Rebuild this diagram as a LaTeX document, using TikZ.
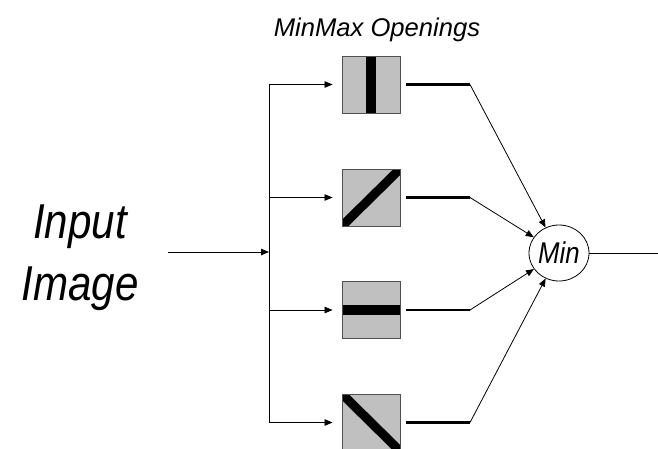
\documentclass[tikz,border=0pt]{standalone}
\usepackage{fontspec}
\setmainfont{Liberation Sans}
\newfontfamily\narrowsans[FakeStretch=0.86]{Liberation Sans}
\usetikzlibrary{arrows.meta,shapes.geometric}
\definecolor{panel}{HTML}{C0C0C0}
\definecolor{panelline}{HTML}{505050}
\tikzset{
  px/.style={x=1pt,y=-1pt},
  sebox/.style={draw=panelline,line width=0.9pt,fill=panel,minimum width=58pt,
    minimum height=57pt,inner sep=0pt},
  vbar/.style={sebox,path picture={\fill[black]
    ([xshift=-4.6pt]path picture bounding box.north) rectangle
    ([xshift=4.6pt]path picture bounding box.south);}},
  hbar/.style={sebox,path picture={\fill[black]
    ([yshift=-5pt]path picture bounding box.west) rectangle
    ([yshift=5pt]path picture bounding box.east);}},
  rdiag/.style={sebox,path picture={\draw[black,line width=9pt]
    ([shift={(-5pt,-5pt)}]path picture bounding box.south west) --
    ([shift={(5pt,5pt)}]path picture bounding box.north east);}},
  ldiag/.style={sebox,path picture={\draw[black,line width=9pt]
    ([shift={(-5pt,5pt)}]path picture bounding box.north west) --
    ([shift={(5pt,-5pt)}]path picture bounding box.south east);}},
  wire/.style={line width=0.8pt},
  arr/.style={wire,-{Triangle[length=8pt,width=6.5pt]}},
  heavy/.style={line width=2.2pt},
  minnode/.style={draw,ellipse,line width=0.8pt,minimum width=60pt,
    minimum height=56pt,inner sep=0pt,
    font=\narrowsans\itshape\fontsize{30}{30}\selectfont},
}
\begin{document}
\begin{tikzpicture}[px]
\clip (0,0) rectangle (658,448);
\useasboundingbox (0,0) rectangle (658,448);

% labels
\node[anchor=base,inner sep=0pt,font=\itshape\fontsize{25.6}{26}\selectfont]
  (title) at (377,36.7) {MinMax Openings};
\node[anchor=base,inner sep=0pt,font=\narrowsans\itshape\fontsize{49}{49}\selectfont]
  (in1) at (80,238.3) {Input};
\node[anchor=base,inner sep=0pt,font=\narrowsans\itshape\fontsize{49}{49}\selectfont]
  (in2) at (80,300.7) {Image};

% structuring-element panels
\node[vbar]  (b1) at (371,84.5)  {};
\node[rdiag] (b2) at (371,197.5) {};
\node[hbar]  (b3) at (371,310)   {};
\node[ldiag] (b4) at (371,422.5) {};

% minimum operator
\node[minnode] (min) at (559,253) {Min};

% fan-out
\coordinate (src) at (168,252);
\coordinate (split) at (269,252);
\coordinate (s1) at (269,84.5);
\coordinate (s2) at (269,197.5);
\coordinate (s3) at (269,310);
\coordinate (s4) at (269,422.5);
\draw[arr] (src) -- (split);
\draw[wire] (s1) -- (s4);
\foreach \i in {1,...,4}{
  \draw[arr] (s\i) -- ([xshift=-9pt]b\i.west);
}

% fan-in
\coordinate (k1) at (470,84.5);
\coordinate (k2) at (470,197.5);
\coordinate (k3) at (470,310);
\coordinate (k4) at (470,422.5);
\foreach \i in {1,...,4}{
  \draw[heavy] ([xshift=6pt]b\i.east) -- (k\i);
  \draw[arr] (k\i) -- (min);
}

% result
\coordinate (out) at (658,253);
\draw[wire] (min) -- (out);
\end{tikzpicture}
\end{document}
